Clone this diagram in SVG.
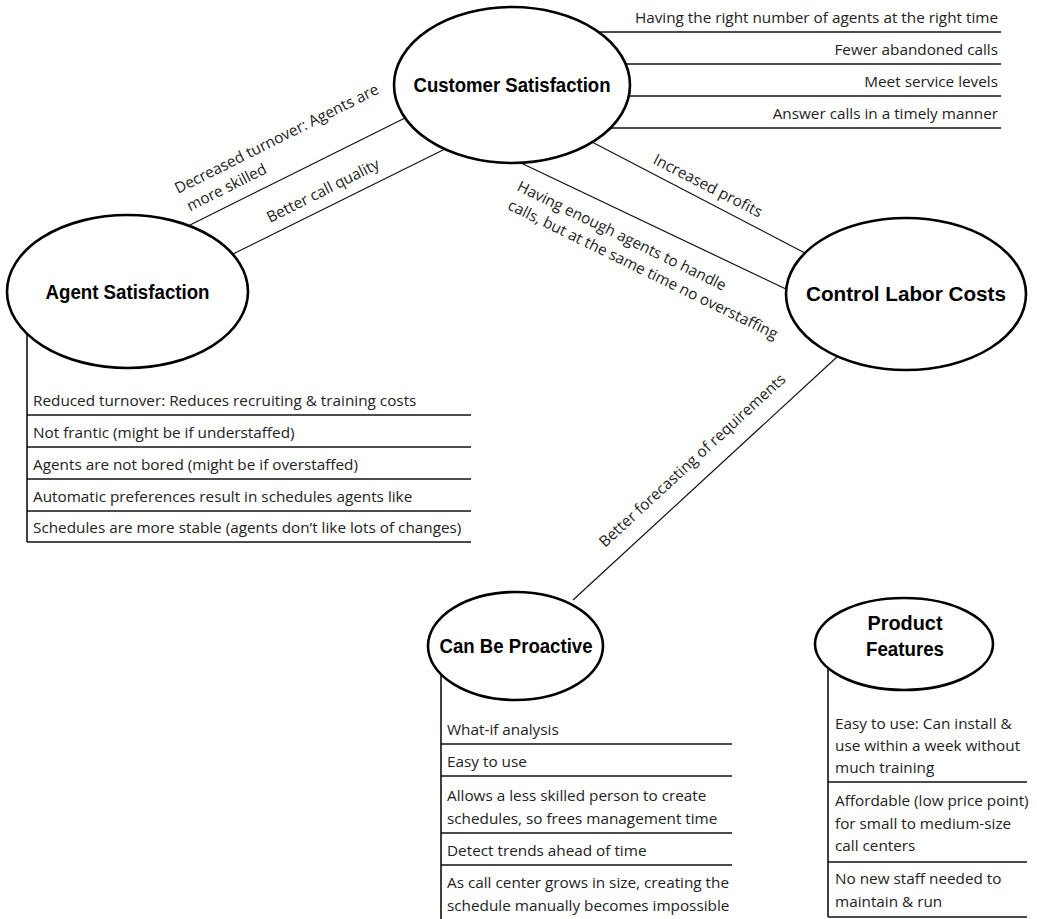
<svg xmlns="http://www.w3.org/2000/svg" width="1037" height="919" viewBox="0 0 1037 919">
<style>
.ell{fill:#fff;stroke:#000;stroke-width:2.6}
.conn{stroke:#111;stroke-width:1.2;fill:none}
.rule{stroke:#111;stroke-width:1.6;fill:none}
.title{font-family:"Liberation Sans",Arial,sans-serif;font-weight:bold;font-size:20px;text-anchor:middle;fill:#000}
.txt{font-family:"Open Sans","Liberation Sans",sans-serif;font-size:15.3px;fill:#222}
.end{text-anchor:end}
</style>
<rect width="1037" height="919" fill="#fff"/>
<g id="connectors">
<line class="conn" x1="405" y1="118" x2="190" y2="225"/>
<line class="conn" x1="447" y1="148" x2="233" y2="254"/>
<line class="conn" x1="592" y1="142" x2="805" y2="253"/>
<line class="conn" x1="521" y1="163" x2="788" y2="290"/>
<line class="conn" x1="838" y1="356" x2="573" y2="600"/>
<text class="txt" transform="translate(178,194) rotate(-26.6)"><tspan x="0" y="0">Decreased turnover: Agents are</tspan><tspan x="3" y="21">more skilled</tspan></text>
<text class="txt" transform="translate(270,223) rotate(-26.6)">Better call quality</text>
<text class="txt" transform="translate(652,163) rotate(27.1)">Increased profits</text>
<text class="txt" transform="translate(516,190) rotate(26)"><tspan x="0" y="0">Having enough agents to handle</tspan><tspan x="0" y="21">calls, but at the same time no overstaffing</tspan></text>
<text class="txt" transform="translate(605,548) rotate(-42.7)">Better forecasting of requirements</text>
</g>
<g id="customer-satisfaction">
<line class="rule" x1="599" y1="32" x2="1001" y2="32"/>
<line class="rule" x1="626" y1="64" x2="1001" y2="64"/>
<line class="rule" x1="629" y1="96" x2="1001" y2="96"/>
<line class="rule" x1="610" y1="128" x2="1001" y2="128"/>
<ellipse class="ell" cx="512" cy="85" rx="118" ry="78"/>
<text class="title" x="512" y="92" textLength="197" lengthAdjust="spacingAndGlyphs">Customer Satisfaction</text>
<text class="txt end" x="998" y="23">Having the right number of agents at the right time</text>
<text class="txt end" x="998" y="55">Fewer abandoned calls</text>
<text class="txt end" x="998" y="87">Meet service levels</text>
<text class="txt end" x="998" y="119">Answer calls in a timely manner</text>
</g>
<g id="agent-satisfaction">
<line class="rule" x1="27" y1="334" x2="27" y2="542"/>
<line class="rule" x1="27" y1="415" x2="471" y2="415"/>
<line class="rule" x1="27" y1="447" x2="471" y2="447"/>
<line class="rule" x1="27" y1="479" x2="471" y2="479"/>
<line class="rule" x1="27" y1="511" x2="471" y2="511"/>
<line class="rule" x1="27" y1="542" x2="471" y2="542"/>
<ellipse class="ell" cx="127.5" cy="291.5" rx="120.5" ry="76.5"/>
<text class="title" x="127.5" y="299" textLength="164" lengthAdjust="spacingAndGlyphs">Agent Satisfaction</text>
<text class="txt" x="33" y="406">Reduced turnover: Reduces recruiting &amp; training costs</text>
<text class="txt" x="33" y="438">Not frantic (might be if understaffed)</text>
<text class="txt" x="33" y="470">Agents are not bored (might be if overstaffed)</text>
<text class="txt" x="33" y="502">Automatic preferences result in schedules agents like</text>
<text class="txt" x="33" y="533">Schedules are more stable (agents don’t like lots of changes)</text>
</g>
<g id="control-labor-costs">
<ellipse class="ell" cx="906" cy="294" rx="120" ry="76"/>
<text class="title" x="906" y="301" textLength="200" lengthAdjust="spacingAndGlyphs">Control Labor Costs</text>
</g>
<g id="can-be-proactive">
<line class="rule" x1="441" y1="674" x2="441" y2="919"/>
<line class="rule" x1="441" y1="744" x2="732" y2="744"/>
<line class="rule" x1="441" y1="776" x2="732" y2="776"/>
<line class="rule" x1="441" y1="833" x2="732" y2="833"/>
<line class="rule" x1="441" y1="865" x2="732" y2="865"/>
<ellipse class="ell" cx="515.5" cy="646" rx="87.5" ry="54"/>
<text class="title" x="516" y="653" textLength="153" lengthAdjust="spacingAndGlyphs">Can Be Proactive</text>
<text class="txt" x="447" y="735">What-if analysis</text>
<text class="txt" x="447" y="767">Easy to use</text>
<text class="txt" x="447" y="801">Allows a less skilled person to create</text>
<text class="txt" x="447" y="824">schedules, so frees management time</text>
<text class="txt" x="447" y="856">Detect trends ahead of time</text>
<text class="txt" x="447" y="888">As call center grows in size, creating the</text>
<text class="txt" x="447" y="911">schedule manually becomes impossible</text>
</g>
<g id="product-features">
<line class="rule" x1="828" y1="668" x2="828" y2="917"/>
<line class="rule" x1="828" y1="782" x2="1027" y2="782"/>
<line class="rule" x1="828" y1="862" x2="1027" y2="862"/>
<line class="rule" x1="828" y1="917" x2="1027" y2="917"/>
<ellipse class="ell" cx="904" cy="644" rx="89" ry="46"/>
<text class="title" x="905" y="630" textLength="75" lengthAdjust="spacingAndGlyphs">Product</text>
<text class="title" x="905" y="656" textLength="78" lengthAdjust="spacingAndGlyphs">Features</text>
<text class="txt" x="835" y="729">Easy to use: Can install &amp;</text>
<text class="txt" x="835" y="751">use within a week without</text>
<text class="txt" x="835" y="773">much training</text>
<text class="txt" x="835" y="806">Affordable (low price point)</text>
<text class="txt" x="835" y="829">for small to medium-size</text>
<text class="txt" x="835" y="851">call centers</text>
<text class="txt" x="835" y="884">No new staff needed to</text>
<text class="txt" x="835" y="907">maintain &amp; run</text>
</g>
</svg>
